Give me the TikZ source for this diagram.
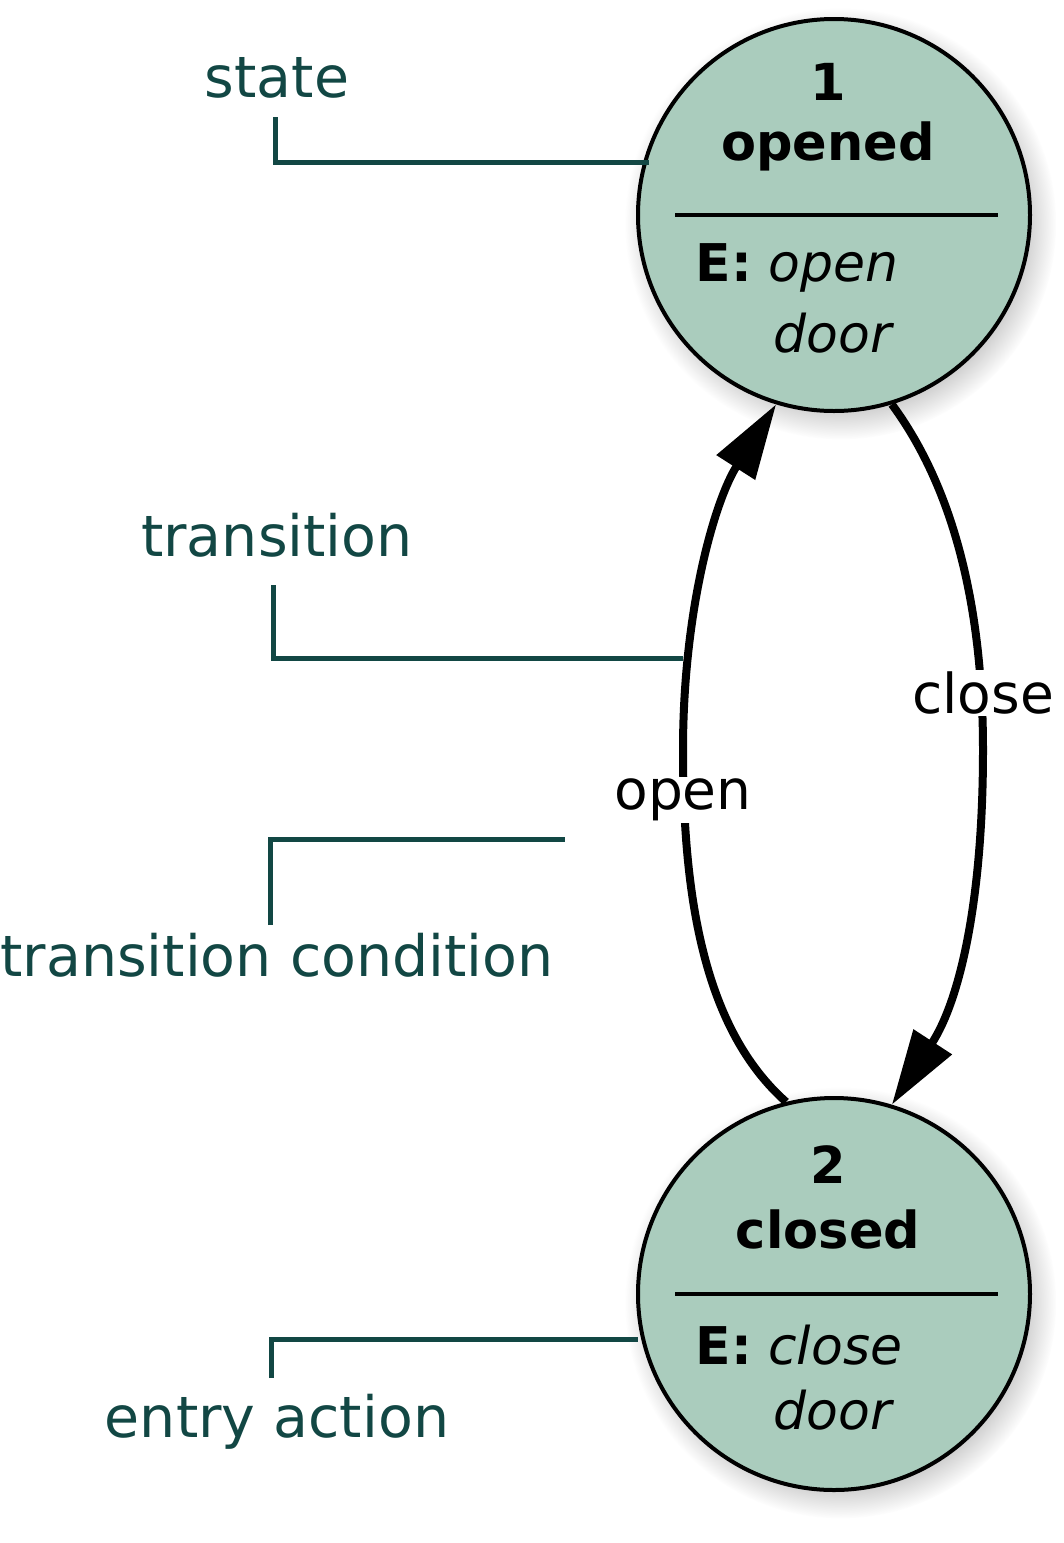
\documentclass[tikz,border=0pt]{standalone}
\usepackage{fontspec}
\setmainfont{DejaVu Sans}
\usetikzlibrary{arrows.meta,shadows}
\definecolor{fillc}{HTML}{AACCBD}
\definecolor{annc}{HTML}{124744}
\begin{document}
\begin{tikzpicture}[x=1pt,y=-1pt,
  st/.style={circle,draw,line width=4pt,fill=fillc,minimum size=392pt,inner sep=0pt,
    circular drop shadow={shadow xshift=6pt,shadow yshift=-8pt,opacity=0.4}},
  big/.style={font=\fontsize{55}{60}\selectfont},
  ent/.style={font=\fontsize{52}{57}\selectfont},
  bbig/.style={font=\fontsize{51}{56}\selectfont\bfseries},
  ann/.style={font=\fontsize{57}{62}\selectfont,text=annc},
  aline/.style={annc,line width=5pt},
  tr/.style={line width=8pt,-{Triangle[length=75pt,width=44pt]}}]
\useasboundingbox (0,0) rectangle (1064,1543);
\node[st] (c1) at (834,215) {};
\node[st] (c2) at (834,1294) {};
\draw[line width=4pt] (675,215) -- (998,215);
\draw[line width=4pt] (675,1294) -- (998,1294);
\node[bbig] (n1) at (828,82) {1};
\node[bbig] (o1) at (828,146) {opened};
\node[ent,anchor=west] (e1) at (692,268) {\textbf{E:} \textit{open}};
\node[ent,anchor=west] (d1) at (770,333) {\textit{door}};
\node[bbig] (n2) at (828,1165) {2};
\node[bbig] (o2) at (828,1229) {closed};
\node[ent,anchor=west] (e2) at (692,1345) {\textbf{E:} \textit{close}};
\node[ent,anchor=west] (d2) at (770,1410) {\textit{door}};
\coordinate (om) at (683,750);
\coordinate (cm) at (983,750);
\draw[tr] (c2.104) .. controls (705,1030) and (683,900) .. (om) .. controls (683,610) and (715,500) .. (c1.253);
\draw[tr] (c1.-73) .. controls (955,490) and (983,610) .. (cm) .. controls (983,900) and (960,1000) .. (c2.73);
\node[big,fill=white,inner sep=2pt] (lo) at (683,800) {open};
\node[big,fill=white,inner sep=2pt] (lc) at (983,693) {close};
\node[ann] (a1) at (277,78) {state};
\node[ann] (a2) at (277,535) {transition};
\node[ann] (a3) at (277,955) {transition condition};
\node[ann] (a4) at (277,1422) {entry action};
\coordinate (p1) at (649,162);
\coordinate (p2) at (683,658);
\coordinate (p3) at (565,839);
\coordinate (p4) at (638,1339);
\draw[aline] (275,117) |- (p1);
\draw[aline] (273,585) |- (p2);
\draw[aline] (270,925) |- (p3);
\draw[aline] (271,1378) |- (p4);
\end{tikzpicture}
\end{document}
